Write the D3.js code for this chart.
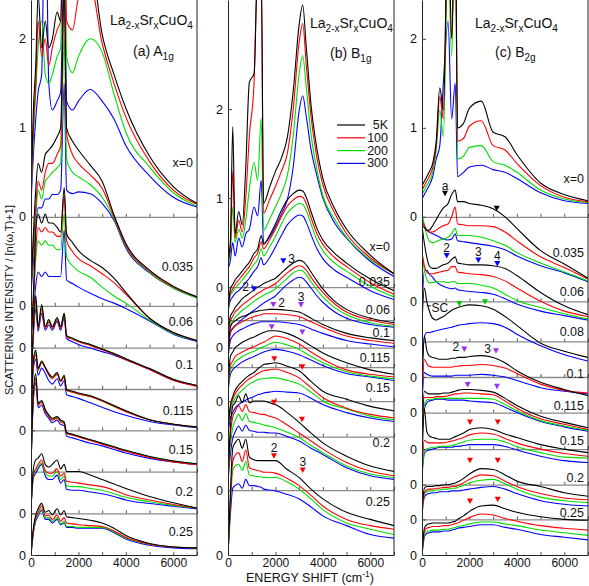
<!DOCTYPE html>
<html>
<head>
<meta charset="utf-8">
<script src="https://cdn.jsdelivr.net/npm/d3@7"></script>
<style>
  body { margin: 0; background: #fff; }
  svg text { font-family: "Liberation Sans", Arial, sans-serif; fill: #111; }
</style>
</head>
<body>
<div id="container"></div>
<script>
// energy grids (cm-1) the spectra are read on
const E_GRID = [0,100,200,300,450,600,750,900,1100,1250,1400,1500,1750,2000,2500,3000,3500,4000,5000,6000,7000];
const E_PEAK = [0,100,200,300,450,600,750,900,1100,1250,1400,1500,1750,2000,2250,2500,2750,3000,3150,3300,3500,3750,4000,4500,5000,6000,7000];

const TEMPS = ["5K", "100", "200", "300"];
const colors = { "5K": "#000000", "100": "#ff0000", "200": "#00dd00", "300": "#0000ff" };
const markColors = { black: "#000000", blue: "#0000ff", purple: "#9933ee", red: "#ff0000", green: "#00cc00" };

// ---- (a) A1g : each row = [5K, 100, 200, 300]
const A_DOPING = ["x=0", "0.035", "0.06", "0.1", "0.115", "0.15", "0.2", "0.25"];
const a_000 = [
  [0.3,1.2,1.7,2.5,1.9,2.2,1.9,2.0,2.3,2.2,4.0,2.7,2.8,3.0,2.9,2.05,1.6,1.22,0.68,0.34,0.15],
  [0.25,1.0,1.5,2.2,1.8,2.0,1.7,1.9,2.1,2.2,4.0,2.2,2.1,2.45,2.6,1.95,1.5,1.12,0.62,0.3,0.14],
  [0.2,0.9,1.4,1.9,2.2,1.6,1.5,1.6,1.8,1.9,4.0,1.8,1.62,1.8,2.0,1.85,1.38,0.95,0.56,0.27,0.12],
  [0.15,0.7,1.1,1.4,1.6,4.0,1.5,1.2,1.3,1.4,3.0,1.3,1.2,1.3,1.43,1.3,1.1,0.8,0.46,0.22,0.11]
];
const a_035 = [
  [0.2,0.8,1.3,1.6,1.5,1.7,1.75,1.8,1.9,2.0,3.6,2.0,1.85,1.75,1.58,1.4,1.02,0.7,0.4,0.22,0.1],
  [0.2,0.7,1.1,1.4,1.3,1.5,1.6,1.6,1.7,1.8,3.6,1.94,1.7,1.6,1.47,1.32,1.0,0.68,0.39,0.21,0.1],
  [0.2,0.6,1.0,1.3,1.2,1.4,1.45,1.5,1.55,1.6,3.0,1.64,1.5,1.45,1.36,1.22,0.98,0.67,0.38,0.2,0.09],
  [0.15,0.5,0.9,1.1,1.1,1.2,1.2,1.25,1.25,1.3,2.5,1.3,1.26,1.28,1.26,1.15,0.96,0.65,0.37,0.2,0.09]
];
const a_060 = [
  [0.1,0.6,1.3,1.5,1.4,1.5,1.4,1.4,1.35,1.3,1.8,1.28,1.18,1.09,0.98,0.9,0.78,0.62,0.33,0.17,0.08],
  [0.1,0.5,1.1,1.35,1.3,1.35,1.3,1.3,1.25,1.25,1.7,1.2,1.08,1.0,0.92,0.83,0.73,0.6,0.33,0.17,0.08],
  [0.1,0.5,1.0,1.2,1.15,1.2,1.15,1.15,1.1,1.1,1.5,1.02,0.92,0.86,0.79,0.68,0.58,0.5,0.31,0.16,0.08],
  [0.1,0.4,0.7,0.85,0.8,0.85,0.8,0.8,0.8,0.8,1.32,0.76,0.72,0.68,0.61,0.55,0.5,0.44,0.3,0.15,0.07]
];
const a_100 = [
  [0.05,0.7,1.05,0.7,0.95,0.7,0.78,0.7,0.8,0.7,0.85,0.6,0.57,0.54,0.5,0.45,0.4,0.34,0.23,0.11,0.04],
  [0.05,0.65,1.0,0.68,0.9,0.68,0.75,0.68,0.78,0.68,0.83,0.58,0.56,0.53,0.49,0.44,0.39,0.33,0.22,0.1,0.03],
  [0.05,0.65,0.95,0.68,0.92,0.7,0.76,0.7,0.8,0.7,0.85,0.6,0.57,0.54,0.5,0.45,0.4,0.34,0.23,0.11,0.04],
  [0.05,0.6,0.9,0.65,0.85,0.66,0.72,0.66,0.76,0.66,0.8,0.57,0.53,0.5,0.46,0.42,0.38,0.33,0.22,0.1,0.04]
];
const a_115 = [
  [0.05,0.8,0.9,0.7,0.78,0.71,0.64,0.6,0.65,0.56,0.62,0.46,0.44,0.42,0.39,0.34,0.28,0.22,0.12,0.07,0.04],
  [0.05,0.75,0.85,0.68,0.76,0.7,0.62,0.58,0.63,0.55,0.6,0.45,0.43,0.41,0.38,0.33,0.27,0.21,0.12,0.07,0.04],
  [0.05,0.75,0.88,0.68,0.77,0.7,0.63,0.59,0.64,0.55,0.61,0.45,0.43,0.41,0.38,0.33,0.27,0.22,0.12,0.07,0.04],
  [0.05,0.7,0.8,0.62,0.7,0.64,0.56,0.52,0.58,0.5,0.56,0.4,0.38,0.36,0.31,0.26,0.21,0.17,0.1,0.06,0.03]
];
const a_150 = [
  [0.05,0.9,1.1,0.77,0.8,0.7,0.64,0.6,0.62,0.58,0.56,0.44,0.42,0.4,0.36,0.32,0.28,0.24,0.17,0.12,0.09],
  [0.05,0.85,1.05,0.75,0.78,0.68,0.62,0.58,0.6,0.56,0.54,0.43,0.41,0.39,0.35,0.31,0.27,0.23,0.16,0.11,0.08],
  [0.05,0.85,1.05,0.76,0.79,0.69,0.63,0.59,0.61,0.57,0.55,0.44,0.42,0.4,0.36,0.32,0.28,0.24,0.17,0.12,0.09],
  [0.05,0.8,1.0,0.72,0.75,0.65,0.6,0.55,0.58,0.53,0.52,0.4,0.38,0.36,0.32,0.29,0.25,0.21,0.15,0.11,0.08]
];
const a_200 = [
  [0.05,0.5,0.6,0.62,0.67,0.55,0.52,0.55,0.6,0.5,0.55,0.47,0.47,0.47,0.43,0.38,0.33,0.28,0.19,0.12,0.06],
  [0.05,0.45,0.5,0.55,0.6,0.48,0.45,0.45,0.5,0.42,0.45,0.36,0.35,0.34,0.32,0.3,0.26,0.21,0.15,0.1,0.06],
  [0.05,0.42,0.48,0.52,0.57,0.45,0.42,0.42,0.47,0.38,0.42,0.31,0.3,0.3,0.28,0.26,0.22,0.18,0.13,0.09,0.06],
  [0.05,0.4,0.45,0.5,0.55,0.42,0.38,0.38,0.43,0.34,0.38,0.27,0.26,0.26,0.24,0.22,0.19,0.15,0.11,0.08,0.05]
];
const a_250 = [
  [0.0,0.3,0.45,0.52,0.58,0.48,0.5,0.45,0.52,0.45,0.5,0.43,0.42,0.41,0.39,0.36,0.3,0.22,0.13,0.09,0.08],
  [0.0,0.28,0.42,0.48,0.55,0.44,0.45,0.4,0.45,0.38,0.42,0.36,0.35,0.34,0.33,0.32,0.27,0.2,0.12,0.09,0.08],
  [0.0,0.26,0.4,0.46,0.52,0.42,0.42,0.38,0.42,0.35,0.38,0.32,0.32,0.31,0.31,0.31,0.26,0.19,0.12,0.09,0.08],
  [0.0,0.25,0.38,0.44,0.5,0.4,0.4,0.36,0.4,0.34,0.36,0.31,0.31,0.3,0.3,0.3,0.25,0.18,0.11,0.08,0.07]
];

// ---- (b) B1g
const B_DOPING = ["x=0", "0.035", "0.06", "0.1", "0.115", "0.15", "0.2", "0.25"];
const b_000 = [
  [0.3,0.5,1.8,0.6,0.85,0.7,1.35,2.3,2.4,3.6,3.6,0.94,1.12,1.3,1.45,1.68,2.2,2.95,3.17,2.7,2.05,1.55,1.22,0.88,0.65,0.36,0.15],
  [0.3,0.45,1.3,0.55,0.75,0.62,1.0,1.7,2.3,3.6,3.6,0.83,0.98,1.13,1.3,1.5,2.0,2.75,2.96,2.5,1.92,1.45,1.15,0.83,0.6,0.33,0.15],
  [0.25,0.4,0.9,0.5,0.65,0.55,0.75,1.1,1.4,1.2,1.9,0.64,0.76,0.9,1.05,1.25,1.7,2.4,2.6,2.25,1.72,1.32,1.03,0.76,0.56,0.31,0.15],
  [0.2,0.3,0.5,0.35,0.55,0.45,0.6,0.65,0.9,0.8,1.2,0.49,0.56,0.68,0.82,0.98,1.35,1.98,2.15,1.92,1.55,1.25,1.0,0.72,0.55,0.29,0.12]
];
const b_035 = [
  [0.1,0.35,0.4,0.45,0.5,0.55,0.6,0.65,0.75,0.8,0.95,0.85,0.95,1.08,1.23,1.35,1.42,1.46,1.45,1.38,1.22,1.03,0.9,0.75,0.64,0.46,0.33],
  [0.1,0.3,0.35,0.4,0.45,0.5,0.55,0.6,0.7,0.75,0.88,0.8,0.9,1.02,1.16,1.28,1.35,1.39,1.38,1.31,1.15,0.97,0.85,0.7,0.6,0.42,0.29],
  [0.1,0.28,0.32,0.36,0.4,0.45,0.5,0.55,0.63,0.68,0.8,0.72,0.82,0.94,1.08,1.2,1.27,1.31,1.3,1.23,1.08,0.9,0.78,0.64,0.55,0.38,0.26],
  [0.1,0.22,0.26,0.3,0.33,0.37,0.42,0.47,0.55,0.6,0.7,0.62,0.7,0.82,0.95,1.07,1.14,1.18,1.17,1.1,0.96,0.8,0.69,0.56,0.48,0.33,0.23]
];
const b_060 = [
  [0.2,0.35,0.4,0.45,0.5,0.55,0.58,0.61,0.65,0.68,0.7,0.72,0.75,0.78,0.84,0.9,0.95,0.98,0.97,0.93,0.85,0.75,0.66,0.52,0.43,0.33,0.28],
  [0.15,0.3,0.35,0.4,0.44,0.48,0.51,0.54,0.58,0.61,0.63,0.65,0.68,0.72,0.78,0.84,0.89,0.92,0.91,0.87,0.79,0.7,0.62,0.49,0.4,0.31,0.26],
  [0.15,0.25,0.3,0.34,0.38,0.42,0.45,0.48,0.52,0.55,0.57,0.59,0.62,0.66,0.72,0.78,0.84,0.87,0.86,0.82,0.74,0.65,0.57,0.45,0.37,0.28,0.24],
  [0.1,0.18,0.22,0.25,0.28,0.32,0.35,0.38,0.42,0.45,0.48,0.5,0.54,0.58,0.65,0.71,0.76,0.79,0.78,0.74,0.67,0.58,0.51,0.4,0.33,0.26,0.23]
];
const b_100 = [
  [0.1,0.45,0.5,0.52,0.55,0.57,0.58,0.6,0.62,0.63,0.64,0.64,0.65,0.65,0.64,0.62,0.55,0.48,0.38,0.33,0.3],
  [0.1,0.38,0.43,0.46,0.49,0.51,0.53,0.55,0.57,0.58,0.59,0.6,0.6,0.6,0.59,0.57,0.51,0.45,0.35,0.3,0.27],
  null,
  [0.1,0.3,0.35,0.38,0.41,0.43,0.45,0.47,0.49,0.5,0.51,0.51,0.51,0.51,0.5,0.48,0.43,0.38,0.3,0.26,0.23]
];
const b_115 = [
  [0.15,0.5,0.55,0.6,0.63,0.66,0.68,0.7,0.72,0.74,0.76,0.77,0.79,0.79,0.76,0.7,0.62,0.54,0.43,0.35,0.3],
  [0.12,0.4,0.45,0.5,0.53,0.55,0.57,0.59,0.61,0.63,0.65,0.66,0.7,0.73,0.7,0.64,0.55,0.47,0.35,0.3,0.27],
  [0.1,0.35,0.4,0.44,0.47,0.5,0.52,0.54,0.56,0.58,0.6,0.61,0.64,0.66,0.63,0.58,0.5,0.43,0.33,0.28,0.25],
  [0.1,0.3,0.35,0.38,0.41,0.44,0.46,0.48,0.5,0.52,0.54,0.55,0.57,0.58,0.56,0.52,0.46,0.4,0.31,0.27,0.23]
];
const b_150 = [
  [0.1,0.35,0.45,0.52,0.58,0.62,0.66,0.69,0.72,0.76,0.79,0.81,0.82,0.83,0.79,0.74,0.62,0.51,0.42,0.34,0.29],
  [0.1,0.32,0.42,0.48,0.54,0.58,0.62,0.65,0.68,0.71,0.73,0.74,0.75,0.76,0.72,0.66,0.55,0.44,0.32,0.25,0.21],
  [0.1,0.28,0.37,0.43,0.48,0.52,0.56,0.59,0.62,0.64,0.65,0.65,0.66,0.66,0.63,0.59,0.5,0.4,0.31,0.23,0.19],
  [0.05,0.2,0.27,0.32,0.36,0.39,0.41,0.43,0.45,0.47,0.48,0.49,0.5,0.51,0.5,0.49,0.43,0.36,0.27,0.21,0.17]
];
const b_200 = [
  [0.1,0.7,0.94,0.98,1.06,0.98,1.08,0.98,1.0,1.0,1.0,1.0,0.98,0.96,0.87,0.76,0.64,0.53,0.38,0.27,0.21],
  [0.1,0.6,0.82,0.88,0.95,0.88,0.96,0.88,0.87,0.86,0.85,0.85,0.83,0.81,0.73,0.64,0.55,0.46,0.31,0.21,0.16],
  [0.1,0.5,0.7,0.78,0.85,0.78,0.86,0.77,0.76,0.75,0.74,0.73,0.72,0.7,0.65,0.59,0.5,0.42,0.27,0.18,0.14],
  [0.1,0.4,0.58,0.65,0.72,0.66,0.73,0.67,0.66,0.65,0.65,0.65,0.64,0.64,0.6,0.55,0.47,0.4,0.25,0.16,0.12]
];
const b_250 = [
  [0.0,0.7,1.2,1.26,1.3,1.2,1.3,1.1,1.07,1.06,1.06,1.06,1.06,1.06,0.96,0.87,0.74,0.63,0.48,0.4,0.33],
  [0.0,0.6,1.05,1.12,1.15,1.05,1.18,0.98,0.96,0.95,0.94,0.93,0.93,0.92,0.86,0.78,0.67,0.55,0.4,0.33,0.29],
  [0.0,0.55,0.95,1.0,1.02,0.95,1.05,0.9,0.89,0.88,0.88,0.87,0.87,0.87,0.82,0.74,0.63,0.51,0.36,0.29,0.23],
  [0.0,0.45,0.75,0.78,0.8,0.75,0.85,0.78,0.78,0.77,0.76,0.74,0.73,0.72,0.68,0.63,0.54,0.44,0.33,0.23,0.19]
];

// ---- (c) B2g
const C_DOPING = ["x=0", "0.035", "0.06", "0.08", "0.1", "0.115", "0.15", "0.2", "0.25"];
const c_000 = [
  [0.35,0.4,0.45,0.5,0.6,0.85,1.45,1.2,3.5,2.0,3.5,1.0,1.05,1.22,1.3,0.95,0.9,0.7,0.38,0.25,0.18],
  [0.3,0.35,0.4,0.45,0.55,0.8,1.35,1.1,3.5,2.0,3.5,0.85,0.88,1.02,1.08,0.8,0.75,0.6,0.35,0.22,0.17],
  [0.25,0.3,0.35,0.4,0.5,0.75,1.2,0.9,3.0,1.8,3.5,0.65,0.68,0.78,0.8,0.62,0.58,0.5,0.3,0.2,0.16],
  [0.2,0.25,0.3,0.35,0.45,0.65,0.8,1.5,2.2,1.1,1.5,0.45,0.5,0.56,0.58,0.53,0.5,0.43,0.27,0.18,0.15]
];
const c_035 = [
  [0.85,0.83,0.8,0.8,0.85,0.92,0.99,1.05,1.1,1.2,1.25,1.12,1.12,1.1,1.08,1.04,0.95,0.82,0.57,0.42,0.26],
  [0.9,0.85,0.8,0.78,0.78,0.8,0.83,0.85,0.87,0.95,1.06,0.87,0.86,0.85,0.85,0.84,0.78,0.68,0.5,0.38,0.25],
  [1.0,0.85,0.75,0.68,0.66,0.67,0.69,0.7,0.72,0.76,0.82,0.74,0.74,0.74,0.72,0.68,0.63,0.55,0.43,0.33,0.23],
  [0.95,0.85,0.8,0.78,0.76,0.74,0.72,0.7,0.69,0.7,0.76,0.68,0.67,0.66,0.64,0.62,0.58,0.51,0.4,0.32,0.22]
];
const c_060 = [
  [1.3,1.1,0.95,0.85,0.82,0.82,0.84,0.86,0.88,0.92,0.95,0.88,0.87,0.86,0.86,0.85,0.82,0.74,0.55,0.4,0.3],
  [1.0,0.85,0.78,0.76,0.76,0.77,0.78,0.79,0.8,0.84,0.84,0.78,0.77,0.76,0.75,0.73,0.68,0.6,0.45,0.34,0.28],
  [1.0,0.8,0.7,0.66,0.66,0.67,0.67,0.67,0.66,0.67,0.67,0.65,0.65,0.65,0.63,0.6,0.53,0.46,0.38,0.31,0.25],
  [0.3,0.8,0.8,0.76,0.72,0.67,0.64,0.62,0.6,0.59,0.6,0.58,0.57,0.56,0.55,0.53,0.48,0.42,0.34,0.29,0.24]
];
const c_080 = [
  [0.6,1.0,0.85,0.75,0.66,0.64,0.66,0.68,0.72,0.75,0.77,0.78,0.8,0.81,0.8,0.76,0.68,0.58,0.38,0.29,0.22],
  null,
  null,
  [0.1,0.45,0.5,0.5,0.51,0.52,0.53,0.54,0.55,0.56,0.57,0.58,0.59,0.6,0.61,0.6,0.56,0.48,0.35,0.25,0.18]
];
const c_100 = [
  [0.2,0.86,0.7,0.64,0.62,0.61,0.6,0.6,0.6,0.61,0.61,0.62,0.62,0.63,0.64,0.62,0.56,0.47,0.34,0.26,0.19],
  [0.15,0.6,0.55,0.52,0.51,0.51,0.51,0.51,0.51,0.51,0.52,0.52,0.53,0.53,0.54,0.53,0.5,0.44,0.32,0.25,0.22],
  null,
  [0.1,0.45,0.43,0.42,0.41,0.41,0.41,0.41,0.41,0.41,0.42,0.42,0.42,0.42,0.43,0.42,0.4,0.36,0.28,0.24,0.21]
];
const c_115 = [
  [0.2,0.65,0.63,0.62,0.62,0.62,0.62,0.63,0.63,0.64,0.65,0.66,0.67,0.67,0.66,0.64,0.57,0.49,0.37,0.3,0.24],
  [0.15,0.58,0.58,0.58,0.58,0.59,0.59,0.59,0.6,0.61,0.62,0.62,0.63,0.63,0.62,0.61,0.54,0.46,0.34,0.28,0.22],
  [0.15,0.5,0.55,0.56,0.56,0.57,0.57,0.57,0.57,0.57,0.57,0.57,0.57,0.57,0.57,0.56,0.5,0.43,0.32,0.26,0.21],
  [0.1,0.45,0.52,0.54,0.55,0.56,0.56,0.56,0.55,0.55,0.55,0.55,0.55,0.54,0.53,0.52,0.47,0.41,0.31,0.25,0.2]
];
const c_150 = [
  [0.2,0.85,0.6,0.55,0.53,0.52,0.51,0.51,0.51,0.52,0.54,0.55,0.58,0.62,0.64,0.62,0.57,0.53,0.45,0.4,0.36],
  [0.15,0.5,0.48,0.47,0.47,0.47,0.47,0.47,0.48,0.49,0.5,0.51,0.53,0.56,0.58,0.57,0.52,0.47,0.4,0.35,0.32],
  [0.1,0.38,0.4,0.41,0.42,0.42,0.43,0.43,0.43,0.44,0.45,0.46,0.48,0.5,0.51,0.51,0.48,0.43,0.36,0.31,0.3],
  [0.1,0.35,0.38,0.39,0.4,0.41,0.42,0.42,0.42,0.42,0.43,0.43,0.44,0.45,0.45,0.45,0.43,0.39,0.32,0.27,0.25]
];
const c_200 = [
  [0.1,0.35,0.37,0.37,0.37,0.38,0.38,0.39,0.39,0.4,0.41,0.42,0.46,0.51,0.57,0.56,0.5,0.43,0.37,0.3,0.26],
  [0.1,0.3,0.33,0.34,0.34,0.35,0.35,0.36,0.36,0.37,0.37,0.38,0.41,0.45,0.5,0.49,0.43,0.37,0.29,0.24,0.22],
  [0.1,0.28,0.31,0.32,0.32,0.33,0.33,0.34,0.34,0.35,0.35,0.36,0.38,0.41,0.44,0.45,0.4,0.34,0.25,0.21,0.19],
  [0.05,0.25,0.28,0.29,0.3,0.3,0.31,0.31,0.31,0.32,0.32,0.32,0.33,0.34,0.36,0.37,0.34,0.29,0.21,0.17,0.15]
];
const c_250 = [
  [0.0,0.3,0.34,0.35,0.36,0.36,0.36,0.36,0.36,0.37,0.38,0.4,0.44,0.49,0.55,0.56,0.52,0.48,0.43,0.4,0.39],
  [0.0,0.26,0.3,0.31,0.32,0.32,0.32,0.33,0.33,0.34,0.35,0.36,0.39,0.42,0.46,0.45,0.41,0.38,0.33,0.3,0.28],
  [0.0,0.22,0.26,0.27,0.28,0.28,0.28,0.29,0.29,0.3,0.31,0.32,0.33,0.35,0.37,0.37,0.35,0.33,0.28,0.25,0.22],
  [0.0,0.2,0.24,0.25,0.26,0.26,0.26,0.27,0.27,0.28,0.29,0.3,0.31,0.32,0.34,0.34,0.31,0.29,0.23,0.2,0.17]
];

// feature markers: [row, energy, intensity, colour, label, label side]
const B_MARKS = [
  [2, 1097, 0.655, "blue", "2", "left"], [2, 2332, 0.97, "blue", "3", "right"],
  [3, 1911, 0.70, "purple", "2", "right"], [3, 3079, 0.70, "purple", "3", "above"],
  [4, 1843, 0.83, "purple"], [4, 3134, 0.77, "purple"],
  [5, 1953, 0.87, "red"], [5, 3134, 0.78, "red"],
  [6, 1940, 0.98, "red"], [6, 3121, 0.79, "red"],
  [7, 1940, 1.11, "red", "2", "above"], [7, 3151, 0.95, "red", "3", "above"]
];
const C_MARKS = [
  [1, 970, 1.21, "black", "a", "above"], [1, 3151, 1.04, "black"],
  [2, 1042, 0.96, "blue", "2", "above"], [2, 2375, 0.91, "blue", "3", "above"], [2, 3176, 0.87, "blue", "4", "above"],
  [3, 1573, 0.82, "green"], [3, 2657, 0.84, "green"],
  [4, 1784, 0.71, "purple", "2", "left"], [4, 3121, 0.69, "purple", "3", "left"],
  [5, 1927, 0.72, "purple"], [5, 3163, 0.70, "purple"],
  [6, 2024, 0.70, "red"], [6, 3193, 0.70, "red"],
  [7, 2024, 0.66, "red"], [7, 3193, 0.66, "red"],
  [8, 2024, 0.60, "red"], [8, 3193, 0.62, "red"]
];

// layout: vertical offsets of each spectrum (intensity units) and doping label heights
const A_OFFSET = [3.80, 2.80, 2.33, 1.865, 1.40, 0.936, 0.468, 0];
const B_OFFSET = [3.01, 2.64, 2.33, 2.11, 1.73, 1.33, 0.73, 0];
const C_OFFSET = [3.80, 2.85, 2.40, 2.0, 1.6, 1.19, 0.79, 0.40, 0];
const A_LAB = [0.6, 0.44, 0.29, 0.27, 0.22, 0.24, 0.24, 0.26];
const B_LAB = [0.45, 0.43, 0.42, 0.39, 0.48, 0.55, 0.53, 0.59];
const C_LAB = [0.43, 0.54, 0.55, 0.51, 0.43, 0.48, 0.49, 0.47, 0.47];

const panels = [
  { key: "a", left: 31, name: "(a)  A", sub: "1g", dop: A_DOPING, off: A_OFFSET, lab: A_LAB, marks: [],
    rows: [a_000, a_035, a_060, a_100, a_115, a_150, a_200, a_250], tx: 79, ty: 25, nx: 102, ny: 56 },
  { key: "b", left: 228, name: "(b)  B", sub: "1g", dop: B_DOPING, off: B_OFFSET, lab: B_LAB, marks: B_MARKS,
    rows: [b_000, b_035, b_060, b_100, b_115, b_150, b_200, b_250], tx: 82, ty: 28, nx: 102, ny: 58 },
  { key: "c", left: 422, name: "(c)  B", sub: "2g", dop: C_DOPING, off: C_OFFSET, lab: C_LAB, marks: C_MARKS,
    rows: [c_000, c_035, c_060, c_080, c_100, c_115, c_150, c_200, c_250], tx: 53, ty: 28, nx: 73, ny: 57 }
];

const W = 589, H = 586, PW = 166, Y0 = 555, UNIT = 89;

const svg = d3.select("#container").append("svg")
  .attr("width", W).attr("height", H);

const y = d3.scaleLinear().domain([0, Y0 / UNIT]).range([Y0, 0]);

panels.forEach(p => {
  const x = d3.scaleLinear().domain([0, 7000]).range([p.left, p.left + PW]);
  const g = svg.append("g").attr("class", "panel-" + p.key);

  svg.append("clipPath").attr("id", "clip-" + p.key)
    .append("rect").attr("x", p.left).attr("y", 0).attr("width", PW).attr("height", Y0);

  // zero line of every spectrum, drawn as an axis with inward ticks
  p.off.forEach((o, i) => {
    const ax = g.append("g")
      .attr("transform", "translate(0," + y(o) + ")")
      .call(d3.axisBottom(x)
        .tickValues(d3.range(0, 7001, 1000))
        .tickSizeInner(-3).tickSizeOuter(0).tickPadding(3)
        .tickFormat(d => (o === 0 && d % 2000 === 0) ? d : ""));
    ax.select(".domain").attr("stroke", o === 0 ? "#222" : "#8a8a8a").attr("stroke-width", o === 0 ? 1 : 1.3);
    ax.selectAll(".tick line").attr("stroke", "#555");
    ax.selectAll("text").attr("font-size", 12).attr("fill", "#111");
  });

  // curves: 300 K first so 5 K lies on top
  const line = d3.line()
    .x(d => x(d[0])).y(d => y(d[1]))
    .curve(d3.curveMonotoneX);

  const curves = g.append("g").attr("clip-path", "url(#clip-" + p.key + ")");
  p.rows.forEach((row, i) => {
    [3, 2, 1, 0].forEach(t => {
      const s = row[t];
      if (!s) return;
      const grid = s.length === E_PEAK.length ? E_PEAK : E_GRID;
      curves.append("path")
        .datum(s.map((v, k) => [grid[k], p.off[i] + v]))
        .attr("d", line)
        .attr("fill", "none")
        .attr("stroke", colors[TEMPS[t]])
        .attr("stroke-width", 1.1)
        .attr("stroke-linejoin", "round");
    });
  });

  // left axis with 0 / 1 / 2 labels
  const ticks = [{ v: p.off[0] + 2, t: "2" }, { v: p.off[0] + 1, t: "1" }]
    .concat(p.off.map(o => ({ v: o, t: "0" })));
  const la = g.append("g")
    .attr("transform", "translate(" + p.left + ",0)")
    .call(d3.axisLeft(y)
      .tickValues(ticks.map(d => d.v))
      .tickFormat((d, i) => ticks[i].t)
      .tickSizeInner(-4).tickSizeOuter(0).tickPadding(5));
  la.select(".domain").attr("stroke", "#222");
  la.selectAll(".tick line").attr("stroke", "#444");
  la.selectAll("text").attr("font-size", 12.5).attr("fill", "#111");

  g.append("line")
    .attr("x1", p.left + PW).attr("x2", p.left + PW)
    .attr("y1", 0).attr("y2", Y0)
    .attr("stroke", "#222");

  // doping labels
  g.selectAll(".dop").data(p.dop).join("text")
    .attr("class", "dop")
    .attr("x", p.left + PW - 4)
    .attr("y", (d, i) => y(p.off[i] + p.lab[i]))
    .attr("text-anchor", "end")
    .attr("dominant-baseline", "central")
    .attr("font-size", 12.5)
    .text(d => d);

  // feature markers
  const tri = "M-3,-3L3,-3L0,2.5Z";
  p.marks.forEach(m => {
    const mx = x(m[1]), my = y(p.off[m[0]] + m[2]);
    g.append("path")
      .attr("d", tri)
      .attr("transform", "translate(" + mx + "," + my + ")")
      .attr("fill", markColors[m[3]]);
    if (m[4]) {
      const side = m[5];
      g.append("text")
        .attr("x", side === "left" ? mx - 5 : side === "right" ? mx + 5 : mx)
        .attr("y", side === "above" ? my - 8 : my - 2)
        .attr("text-anchor", side === "left" ? "end" : side === "right" ? "start" : "middle")
        .attr("dominant-baseline", "central")
        .attr("font-size", 12)
        .text(m[4]);
    }
  });

  // title
  const t1 = g.append("text")
    .attr("x", p.left + p.tx).attr("y", p.ty)
    .attr("font-size", 14);
  t1.append("tspan").text("La");
  t1.append("tspan").attr("font-size", 10).attr("dy", 4).text("2-x");
  t1.append("tspan").attr("dy", -4).text("Sr");
  t1.append("tspan").attr("font-size", 10).attr("dy", 4).text("x");
  t1.append("tspan").attr("dy", -4).text("CuO");
  t1.append("tspan").attr("font-size", 10).attr("dy", 4).text("4");

  const t2 = g.append("text")
    .attr("x", p.left + p.nx).attr("y", p.ny)
    .attr("font-size", 14);
  t2.append("tspan").text(p.name);
  t2.append("tspan").attr("font-size", 10).attr("dy", 4).text(p.sub);
});

// "SC" note in (c)
{
  const p = panels[2];
  const x = d3.scaleLinear().domain([0, 7000]).range([p.left, p.left + PW]);
  const yy = y(p.off[3] + 0.8);
  svg.append("line")
    .attr("x1", x(200)).attr("x2", x(380))
    .attr("y1", yy).attr("y2", yy)
    .attr("stroke", "#111");
  svg.append("text")
    .attr("x", x(400)).attr("y", y(p.off[3] + 0.78))
    .attr("dominant-baseline", "central")
    .attr("font-size", 12)
    .text("SC");
}

// legend in (b)
{
  const p = panels[1];
  const x = d3.scaleLinear().domain([0, 7000]).range([p.left, p.left + PW]);
  const lg = svg.append("g");
  TEMPS.forEach((t, i) => {
    const ly = 125 + i * 12.8;
    lg.append("line")
      .attr("x1", x(4600)).attr("x2", x(5780))
      .attr("y1", ly).attr("y2", ly)
      .attr("stroke", colors[t]).attr("stroke-width", 1.2);
    lg.append("text")
      .attr("x", p.left + 160).attr("y", ly)
      .attr("text-anchor", "end")
      .attr("dominant-baseline", "central")
      .attr("font-size", 12.5)
      .text(i === 0 ? "5K" : t);
  });
}

// axis titles
svg.append("text")
  .attr("transform", "translate(9,300) rotate(-90)")
  .attr("text-anchor", "middle")
  .attr("dominant-baseline", "central")
  .attr("font-size", 11)
  .text("SCATTERING INTENSITY / [n(\u03c9,T)+1]");

const xt = svg.append("text")
  .attr("x", 310).attr("y", 582)
  .attr("text-anchor", "middle")
  .attr("font-size", 12.5);
xt.append("tspan").text("ENERGY SHIFT (cm");
xt.append("tspan").attr("font-size", 8.5).attr("dy", -5).text("-1");
xt.append("tspan").attr("dy", 5).text(")");
</script>
</body>
</html>
